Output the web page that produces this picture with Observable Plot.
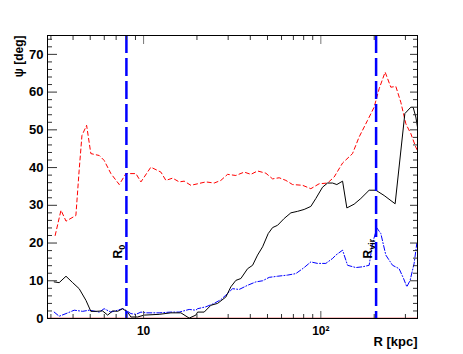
<!DOCTYPE html>
<html>
<head>
<meta charset="utf-8">
<script src="https://cdn.jsdelivr.net/npm/d3@7"></script>
<script src="https://cdn.jsdelivr.net/npm/@observablehq/plot@0.6"></script>
<style>
  html, body { margin: 0; padding: 0; background: #fff; }
  #chart { width: 463px; height: 354px; }
</style>
</head>
<body>
<div id="chart"></div>
<script>
// Radius R [kpc] and angle psi [deg] for each curve
const redR   = [3.17,3.42,3.65,4.15,4.33,4.49,4.77,5.04,5.62,5.99,6.54,7.29,7.95,9.05,9.66,10.99,12.52,13.36,14.58,15.88,16.94,18.48,20.17,22.46,25.02,27.29,29.77,33.16,36.94,40.30,43.95,48.97,53.43,58.19,63.48,69.25,78.86,87.8,97.8,109.1,118.9,132.6,150.9,164.4,183.4,199.8,213.3,230.5,248.2,264.9,282.7,301.7,321.8,343.4,351];
const redPsi = [22.0,28.7,25.8,27.3,39.3,48.5,51.2,43.7,43.2,41.9,38.4,35.5,38.4,38.4,36.2,40.1,38.8,36.6,37.2,36.2,36.4,35.3,35.7,36.2,35.9,36.6,38.2,37.9,38.8,38.2,39.1,38.5,37.0,37.3,36.6,35.5,35.3,34.4,35.7,35.9,37.5,41.2,43.7,48.1,52.5,56.0,60.9,65.3,61.3,61.5,57.3,51.6,49.0,45.4,44.5];

const blackR   = [3.13,3.34,3.65,3.98,4.33,4.73,5.04,5.38,5.87,6.27,6.69,7.14,7.61,8.13,8.48,9.25,10.08,12.24,14.26,16.23,18.08,19.72,20.17,21.97,23.97,26.15,29.12,31.07,33.16,35.39,38.61,41.20,43.95,46.93,50.46,53.43,57.00,62.09,67.74,73.89,80.51,87.8,93.7,102.2,109.1,116.4,123.1,132.6,140.2,154.1,168.1,187.3,204.3,227.5,262.5,297.8,321.8,331.6,343.4,351];
const blackPsi = [9.7,9.5,11.2,9.5,7.9,4.8,1.9,1.9,2.0,0.9,2.0,1.9,2.6,1.7,0.4,0.4,0.9,1.1,1.5,1.5,0.1,0.9,1.7,1.7,3.5,4.0,5.7,8.4,10.1,10.6,13.2,14.1,16.8,19.0,22.5,24.1,24.7,26.5,28.0,28.4,28.9,29.7,31.8,34.8,35.9,35.9,35.5,36.4,29.3,30.3,31.8,34.0,34.0,32.6,30.4,54.3,56.0,56.0,53.4,50.7];

const blueR   = [3.13,3.34,3.65,4.06,4.53,4.93,5.62,5.99,6.54,7.14,7.61,7.95,8.48,9.05,9.66,10.3,12.24,14.26,15.88,18.08,19.72,20.17,22.46,25.02,27.29,29.12,31.77,34.62,38.61,42.99,46.93,51.12,57.00,64.90,72.28,80.51,87.8,95.8,106.7,116.4,121.5,132.6,141.5,157.6,171.9,187.3,195.7,207.0,218.0,232.6,253.8,276.5,292.8,305.6,318.9,335.9,347.9];
const bluePsi = [1.7,0.6,1.3,2.2,1.9,2.2,1.7,2.6,1.7,2.2,2.6,2.2,1.3,1.1,1.7,1.5,1.5,1.7,1.7,2.4,2.2,2.6,3.1,4.0,5.0,6.2,7.9,7.7,8.8,9.7,10.0,10.9,11.2,11.5,11.9,13.5,15.0,14.6,14.6,15.9,16.8,18.1,14.1,13.5,13.7,14.1,19.9,24.0,22.5,16.8,14.1,13.2,10.6,8.4,10.1,14.6,19.9];

// Reference radii (vertical markers)
const markerR = [8.0, 205];
const markerNames = ["R0", "Rvir"];

// Axis ticks
const xDomain = [2.87, 351];
const yDomain = [0, 75];
const xMajor = [10, 100];
const xMinor = [3,4,5,6,7,8,9,20,30,40,50,60,70,80,90,200,300];
const xLabels = ["10", "10²"];
const yMajor = [0,10,20,30,40,50,60,70];
const yMinor = [2,4,6,8,12,14,16,18,22,24,26,28,32,34,36,38,42,44,46,48,52,54,56,58,62,64,66,68,72,74];

const toRows = (R, P) => R.map((r, i) => ({r, psi: P[i]}));
const red = toRows(redR, redPsi);
const black = toRows(blackR, blackPsi);
const blue = toRows(blueR, bluePsi);
const markers = markerR.map((r, i) => ({r, name: markerNames[i]}));

const tickColor = "#333";

const chart = Plot.plot({
  width: 463,
  height: 354,
  marginLeft: 47,
  marginRight: 46,
  marginTop: 35,
  marginBottom: 36,
  x: {type: "log", domain: xDomain},
  y: {domain: yDomain},
  style: {fontFamily: "'Liberation Sans', Arial, Helvetica, sans-serif", fontWeight: "bold", fontSize: "12px", background: "#fff", color: "#000"},
  marks: [
    Plot.ruleY([0], {stroke: "#f08080", strokeWidth: 1, dy: -0.5}),
    Plot.line(red, {x: "r", y: "psi", stroke: "#ff0000", strokeWidth: 1, strokeDasharray: "4,3"}),
    Plot.line(blue, {x: "r", y: "psi", stroke: "#0000ff", strokeWidth: 1, strokeDasharray: "5,2,1,2"}),
    Plot.line(black, {x: "r", y: "psi", stroke: "#000", strokeWidth: 1}),
    Plot.ruleX(markers, {x: "r", stroke: "#0000ff", strokeWidth: 2.5, strokeDasharray: "18,5"}),
    Plot.text(markers, {x: "r", text: "name", frameAnchor: "bottom", rotate: -90, textAnchor: "start", lineAnchor: "bottom", dx: -4, dy: -60, fontSize: 12, fontWeight: "bold", className: "marker-label"}),
    // inward ticks: left & right (y), bottom & top (x)
    Plot.axisY({anchor: "left", ticks: yMajor, tickSize: 10, dx: 10, text: null, label: null, stroke: tickColor}),
    Plot.axisY({anchor: "left", ticks: yMinor, tickSize: 5, dx: 5, text: null, label: null, stroke: tickColor}),
    Plot.axisY({anchor: "right", ticks: yMajor, tickSize: 8, dx: -8, text: null, label: null, stroke: tickColor}),
    Plot.axisY({anchor: "right", ticks: yMinor, tickSize: 5, dx: -5, text: null, label: null, stroke: tickColor}),
    Plot.axisX({anchor: "bottom", ticks: xMajor, tickSize: 7, dy: -7, text: null, label: null, stroke: "#555"}),
    Plot.axisX({anchor: "bottom", ticks: xMinor, tickSize: 4, dy: -4, text: null, label: null, stroke: tickColor}),
    Plot.axisX({anchor: "top", ticks: xMajor, tickSize: 8, dy: 8, text: null, label: null, stroke: "#777"}),
    Plot.axisX({anchor: "top", ticks: xMinor, tickSize: 4, dy: 4, text: null, label: null, stroke: tickColor}),
    // tick labels
    Plot.axisY({anchor: "left", ticks: yMajor, tickSize: 0, tickPadding: 4, label: null, fontSize: 13, fontWeight: "bold"}),
    Plot.axisX({anchor: "bottom", ticks: xMajor, tickSize: 0, tickPadding: 8, label: null, tickFormat: d => xLabels[xMajor.indexOf(d)], fontSize: 12, fontWeight: "bold"}),
    // axis titles
    Plot.text(["ψ [deg]"], {frameAnchor: "top-left", rotate: -90, textAnchor: "end", lineAnchor: "bottom", dx: -25, fontSize: 12, fontWeight: "bold"}),
    Plot.text(["R [kpc]"], {frameAnchor: "bottom-right", textAnchor: "end", lineAnchor: "top", dy: 18, fontSize: 13, fontWeight: "bold"}),
    Plot.frame({stroke: "#000", strokeWidth: 1})
  ]
});

document.getElementById("chart").appendChild(chart);

// Render subscripts in the marker labels (R₀, R_vir)
d3.select(chart).selectAll("g.marker-label text, .marker-label text").each(function() {
  const t = d3.select(this);
  const s = t.text();
  if (!s.startsWith("R")) return;
  const sub = s.slice(1);
  t.text("");
  t.append("tspan").text("R");
  t.append("tspan").attr("font-size", "9px").attr("dy", "0.3em").text(sub);
});
</script>
</body>
</html>
